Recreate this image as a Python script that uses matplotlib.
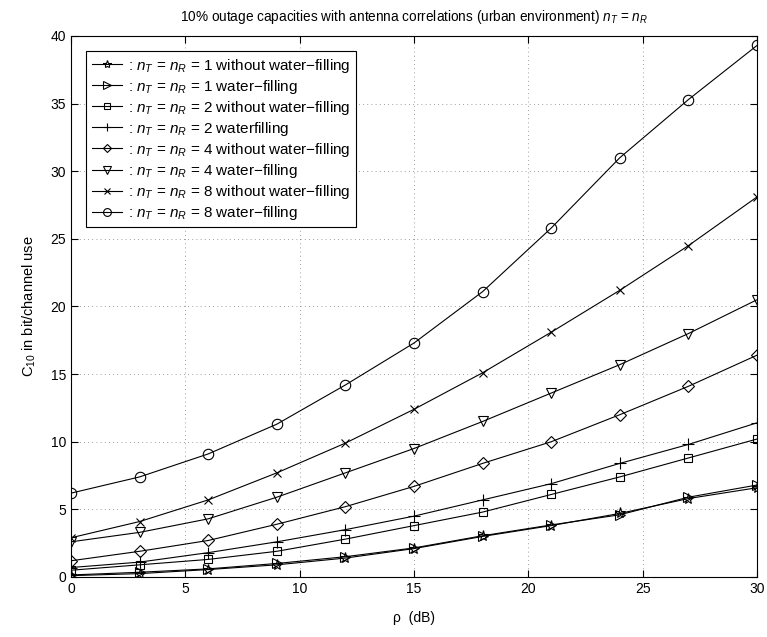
import numpy as np
import matplotlib
matplotlib.use('Agg')
from matplotlib import pyplot as plt

plt.rcParams['font.family'] = ['Liberation Sans', 'DejaVu Sans']
plt.rcParams['mathtext.fontset'] = 'custom'
plt.rcParams['mathtext.rm'] = 'Liberation Sans'
plt.rcParams['mathtext.it'] = 'Liberation Sans:italic'

rho = [0, 3, 6, 9, 12, 15, 18, 21, 24, 27, 30]

c1_nowf = [0.1, 0.25, 0.55, 0.9, 1.4, 2.1, 3.0, 3.8, 4.7, 5.8, 6.6]
c1_wf = [0.15, 0.35, 0.6, 1.0, 1.5, 2.15, 3.05, 3.85, 4.6, 5.9, 6.8]
c2_nowf = [0.5, 0.9, 1.3, 1.9, 2.8, 3.8, 4.8, 6.1, 7.4, 8.8, 10.2]
c2_wf = [0.7, 1.1, 1.8, 2.6, 3.5, 4.5, 5.7, 6.9, 8.4, 9.8, 11.4]
c4_nowf = [1.2, 1.9, 2.7, 3.9, 5.2, 6.7, 8.4, 10.0, 12.0, 14.1, 16.4]
c4_wf = [2.6, 3.3, 4.3, 5.9, 7.7, 9.5, 11.5, 13.6, 15.7, 18.0, 20.5]
c8_nowf = [2.9, 4.1, 5.7, 7.7, 9.9, 12.4, 15.1, 18.1, 21.2, 24.5, 28.1]
c8_wf = [6.2, 7.4, 9.1, 11.3, 14.2, 17.3, 21.1, 25.8, 31.0, 35.3, 39.3]

series = [
    (c1_nowf, '*', ': $n_T$ = $n_R$ = 1 without water\u2212filling'),
    (c1_wf, '>', ': $n_T$ = $n_R$ = 1 water\u2212filling'),
    (c2_nowf, 's', ': $n_T$ = $n_R$ = 2 without water\u2212filling'),
    (c2_wf, '+', ': $n_T$ = $n_R$ = 2 waterfilling'),
    (c4_nowf, 'D', ': $n_T$ = $n_R$ = 4 without water\u2212filling'),
    (c4_wf, 'v', ': $n_T$ = $n_R$ = 4 water\u2212filling'),
    (c8_nowf, 'x', ': $n_T$ = $n_R$ = 8 without water\u2212filling'),
    (c8_wf, 'o', ': $n_T$ = $n_R$ = 8 water\u2212filling'),
]
sizes = {'*': 8, '>': 7, 's': 6, '+': 8, 'D': 6, 'v': 7, 'x': 6, 'o': 7.5}

fig = plt.figure(figsize=[7.67, 6.37], dpi=100)
ax = fig.add_axes([0.0926, 0.0942, 0.8944, 0.8493])

for vals, m, lab in series:
    ax.plot(rho, vals, color='black', linewidth=0.8, marker=m,
            markersize=sizes[m], markerfacecolor='none',
            markeredgecolor='black', markeredgewidth=0.8, label=lab)

ax.set_xlim(0, 30)
ax.set_ylim(0, 40)
ax.set_xticks(np.arange(0, 31, 5))
ax.set_yticks(np.arange(0, 41, 5))
ax.grid(True, linestyle=(0, (1, 4)), color='black', linewidth=0.6, alpha=0.5)
ax.tick_params(direction='in', top=True, right=True, labelsize=10, length=5, width=0.8)
for s in ax.spines.values():
    s.set_linewidth(0.8)

ax.set_title('10% outage capacities with antenna correlations (urban environment) $n_T$ = $n_R$',
             fontsize=9.8, pad=11)
ax.set_xlabel('\u03c1  (dB)', fontsize=10, labelpad=11)
ax.set_ylabel('C$_{10}$ in bit/channel use', fontsize=10.5, labelpad=9)

leg = ax.legend(loc='upper left', fontsize=11, frameon=True, fancybox=False,
                edgecolor='black', framealpha=1, borderaxespad=1.0,
                handlelength=2.0, labelspacing=0.2, borderpad=0.35, handletextpad=0.4,
                markerscale=0.75)
leg.get_frame().set_linewidth(0.8)

plt.savefig('out.png', dpi=100)
plt.close()
